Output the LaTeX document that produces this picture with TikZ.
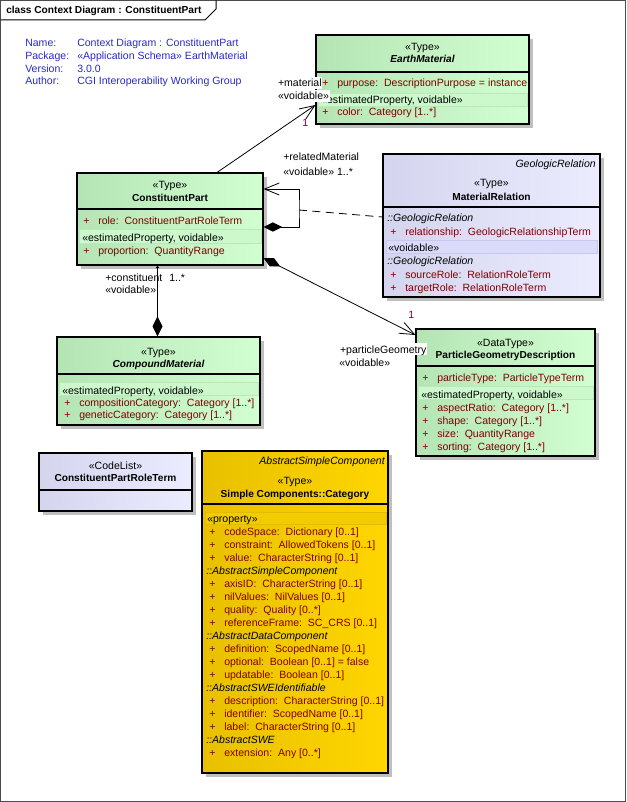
\documentclass[tikz,border=0pt]{standalone}
\usepackage{fontspec}
\setmainfont{Liberation Sans}
\usetikzlibrary{arrows.meta,shadows,fit}

\definecolor{attrred}{RGB}{128,0,0}
\definecolor{multred}{RGB}{110,0,50}
\definecolor{infoblue}{RGB}{40,40,200}
\definecolor{greenL}{RGB}{180,228,180}
\definecolor{greenR}{RGB}{210,255,210}
\definecolor{greenband}{RGB}{204,248,204}
\definecolor{greenline}{RGB}{185,232,185}
\definecolor{lilacL}{RGB}{212,212,238}
\definecolor{lilacR}{RGB}{236,236,255}
\definecolor{lilacband}{RGB}{218,218,250}
\definecolor{lilacline}{RGB}{200,200,238}
\definecolor{goldL}{RGB}{232,192,0}
\definecolor{goldR}{RGB}{255,214,0}
\definecolor{goldband}{RGB}{243,204,0}
\definecolor{goldline}{RGB}{226,188,0}

\tikzset{
	every node/.style = {font=\fontsize{7.9}{9.5}\selectfont, inner sep=0pt, text height=7.2pt, text depth=1.2pt},
	classbox/.style = {draw, line width=0.8pt, inner sep=0pt,
		drop shadow={shadow xshift=3pt, shadow yshift=-3pt, fill=black!25, opacity=1}},
	greenbox/.style = {classbox, left color=greenL, right color=greenR},
	lilacbox/.style = {classbox, left color=lilacL, right color=lilacR},
	goldbox/.style = {classbox, left color=goldL, right color=goldR},
	sepline/.style = {line width=0.8pt},
	gband/.style = {fill=greenband, draw=greenline, line width=0.4pt},
	lband/.style = {fill=lilacband, draw=lilacline, line width=0.4pt},
	yband/.style = {fill=goldband, draw=goldline, line width=0.4pt},
	cname/.style = {font=\fontsize{7.6}{9}\selectfont\bfseries},
	cnamei/.style = {font=\fontsize{7.6}{9}\selectfont\bfseries\itshape},
	absname/.style = {anchor=east, font=\fontsize{7.9}{9.5}\selectfont\itshape},
	plus/.style = {anchor=west, text=attrred},
	attr/.style = {anchor=west, text=attrred},
	grp/.style = {anchor=west, font=\fontsize{7.9}{9.5}\selectfont\itshape},
	tag/.style = {anchor=west},
	info/.style = {anchor=west, text=infoblue},
	role/.style = {anchor=west, fill=white, inner xsep=0.6pt, inner ysep=0.6pt},
	mult/.style = {anchor=west, text=multred},
	link/.style = {line width=0.6pt},
	assoc/.style = {link, -{Straight Barb[length=11pt, width=9pt]}},
	comp/.style = {link, {Diamond[length=14pt, width=7pt]}-{Straight Barb[length=11pt, width=9pt]}},
	whole/.style = {link, {Triangle[length=2pt, width=2.5pt]}-{Diamond[length=15pt, width=7.5pt]}}
}

\begin{document}
\begin{tikzpicture}[x=0.75pt, y=-0.75pt]

	\useasboundingbox (0,0) rectangle (626,802);
	\draw[black!70, line width=0.75pt] (0.5,0.5) rectangle (625.5,801.5);

	% frame tab
	\draw[line width=0.75pt] (0.5,20) -- (205,20) -- (216,9) -- (216,0.5);
	\node[anchor=west, font=\fontsize{7.6}{9}\selectfont\bfseries] (title) at (6,10) {class Context Diagram : ConstituentPart};

	% diagram notes
	\node[info] (nameK) at (25,43) {Name:};
	\node[info] (packK) at (25,56) {Package:};
	\node[info] (versK) at (25,69) {Version:};
	\node[info] (authK) at (25,81) {Author:};
	\node[info] (nameV) at (77,43) {Context Diagram : ConstituentPart};
	\node[info] (packV) at (77,56) {«Application Schema» EarthMaterial};
	\node[info] (versV) at (77,69) {3.0.0};
	\node[info] (authV) at (77,81) {CGI Interoperability Working Group};

	% EarthMaterial
	\node[greenbox, fit={(316,35) (529,124)}] (em) {};
	\draw[sepline] (em.west |- 0,72) -- (em.east |- 0,72);
	\node (em-st) at (422.5,47) {«Type»};
	\node[cnamei] (em-nm) at (422.5,59) {EarthMaterial};
	\node[plus] (em-p1) at (322,83) {+};
	\node[attr] (em-a1) at (337,83) {purpose:\ \ DescriptionPurpose = instance};
	\draw[gband] (318,93) rectangle (527,106);
	\node[tag] (em-tg) at (321,100) {«estimatedProperty, voidable»};
	\node[plus] (em-p2) at (322,112) {+};
	\node[attr] (em-a2) at (337,112) {color:\ \ Category [1..*]};

	% ConstituentPart
	\node[greenbox, fit={(77,173) (263,265)}] (cp) {};
	\draw[sepline] (cp.west |- 0,209) -- (cp.east |- 0,209);
	\node (cp-st) at (170,185) {«Type»};
	\node[cname] (cp-nm) at (170,198) {ConstituentPart};
	\node[plus] (cp-p1) at (83,220) {+};
	\node[attr] (cp-a1) at (98,220) {role:\ \ ConstituentPartRoleTerm};
	\draw[gband] (79,229) rectangle (261,243);
	\node[tag] (cp-tg) at (82,237) {«estimatedProperty, voidable»};
	\node[plus] (cp-p2) at (83,250) {+};
	\node[attr] (cp-a2) at (98,250) {proportion:\ \ QuantityRange};

	% MaterialRelation
	\node[lilacbox, fit={(383,154) (600,297)}] (mr) {};
	\draw[sepline] (mr.west |- 0,207) -- (mr.east |- 0,207);
	\node[absname] (mr-ab) at (596,164) {GeologicRelation};
	\node (mr-st) at (491.5,183) {«Type»};
	\node[cname] (mr-nm) at (491.5,196) {MaterialRelation};
	\node[grp] (mr-g1) at (387,218) {::GeologicRelation};
	\node[plus] (mr-p1) at (390,231) {+};
	\node[attr] (mr-a1) at (405,231) {relationship:\ \ GeologicRelationshipTerm};
	\draw[lband] (386,240) rectangle (597,253);
	\node[tag] (mr-tg) at (388,248) {«voidable»};
	\node[grp] (mr-g2) at (387,260) {::GeologicRelation};
	\node[plus] (mr-p2) at (390,274) {+};
	\node[attr] (mr-a2) at (405,274) {sourceRole:\ \ RelationRoleTerm};
	\node[plus] (mr-p3) at (390,287) {+};
	\node[attr] (mr-a3) at (405,287) {targetRole:\ \ RelationRoleTerm};

	% CompoundMaterial
	\node[greenbox, fit={(57,337) (260,425)}] (cm) {};
	\draw[sepline] (cm.west |- 0,374) -- (cm.east |- 0,374);
	\node (cm-st) at (158.5,351) {«Type»};
	\node[cnamei] (cm-nm) at (158.5,363) {CompoundMaterial};
	\draw[gband] (59,382) rectangle (258,395);
	\node[tag] (cm-tg) at (62,390) {«estimatedProperty, voidable»};
	\node[plus] (cm-p1) at (64,402) {+};
	\node[attr] (cm-a1) at (79,402) {compositionCategory:\ \ Category [1..*]};
	\node[plus] (cm-p2) at (64,414) {+};
	\node[attr] (cm-a2) at (79,414) {geneticCategory:\ \ Category [1..*]};

	% ParticleGeometryDescription
	\node[greenbox, fit={(416,329) (595,456)}] (pg) {};
	\draw[sepline] (pg.west |- 0,366) -- (pg.east |- 0,366);
	\node (pg-st) at (505.5,342) {«DataType»};
	\node[cname] (pg-nm) at (505.5,354) {ParticleGeometryDescription};
	\node[plus] (pg-p0) at (422,377) {+};
	\node[attr] (pg-a0) at (437,377) {particleType:\ \ ParticleTypeTerm};
	\draw[gband] (418,386) rectangle (593,399);
	\node[tag] (pg-tg) at (421,394) {«estimatedProperty, voidable»};
	\foreach \i/\an/\at in {1/aspectRatio/{Category [1..*]}, 2/shape/{Category [1..*]},
		3/size/QuantityRange, 4/sorting/{Category [1..*]}}
	{
		\node[plus] (pg-p\i) at (422,{394+13*\i}) {+};
		\node[attr] (pg-a\i) at (437,{394+13*\i}) {\an:\ \ \at};
	}

	% ConstituentPartRoleTerm
	\node[lilacbox, fit={(39,453) (192,511)}] (cl) {};
	\draw[sepline] (cl.west |- 0,490) -- (cl.east |- 0,490);
	\node (cl-st) at (115.5,465) {«CodeList»};
	\node[cname] (cl-nm) at (115.5,477) {ConstituentPartRoleTerm};

	% Simple Components::Category
	\node[goldbox, fit={(202,451) (388,773)}] (ca) {};
	\draw[sepline] (ca.west |- 0,504) -- (ca.east |- 0,504);
	\node[absname] (ca-ab) at (385,460) {AbstractSimpleComponent};
	\node (ca-st) at (295,480) {«Type»};
	\node[cname] (ca-nm) at (295,493) {Simple Components::Category};
	\draw[yband] (205,512) rectangle (386,524);
	\node[tag] (ca-tg) at (207,518) {«property»};
	\foreach \i/\an/\at in {1/codeSpace/{Dictionary [0..1]}, 2/constraint/{AllowedTokens [0..1]},
		3/value/{CharacterString [0..1]}, 5/axisID/{CharacterString [0..1]},
		6/nilValues/{NilValues [0..1]}, 7/quality/{Quality [0..*]},
		8/referenceFrame/{SC\_CRS [0..1]}, 10/definition/{ScopedName [0..1]},
		11/optional/{Boolean [0..1] = false}, 12/updatable/{Boolean [0..1]},
		14/description/{CharacterString [0..1]}, 15/identifier/{ScopedName [0..1]},
		16/label/{CharacterString [0..1]}, 18/extension/{Any [0..*]}}
	{
		\node[plus] (ca-p\i) at (209,{518+13.05*\i}) {+};
		\node[attr] (ca-a\i) at (224,{518+13.05*\i}) {\an:\ \ \at};
	}
	\foreach \i/\gn in {4/AbstractSimpleComponent, 9/AbstractDataComponent,
		13/AbstractSWEIdentifiable, 17/AbstractSWE}
		\node[grp] (ca-g\i) at (206,{518+13.05*\i}) {::\gn};

	% connectors
	\coordinate (loopR) at (299,210);
	\draw[assoc] (cp.north -| 217,0) -- (em.west |- 0,105);
	\draw[comp] (cp.east |- 0,227) -| (loopR) |- (cp.east |- 0,189);
	\draw[link, dash pattern=on 6pt off 4pt] (loopR) -- (mr.west |- 0,217);
	\draw[comp] (cp.east |- 0,258) -- (pg.west |- 0,335);
	\draw[whole] (cp.south -| 157.5,0) -- (cm.north -| 157.5,0);

	% role labels
	\node[role] (em-r1) at (277,83) {+material};
	\node[role] (em-r2) at (277,96) {«voidable»};
	\node[mult] (em-m) at (302,123) {1};
	\node[anchor=west] (rm-r1) at (283,157) {+relatedMaterial};
	\node[anchor=west] (rm-r2) at (283,172) {«voidable» 1..*};
	\node[role] (pg-r1) at (339,349) {+particleGeometry};
	\node[anchor=west] (pg-r2) at (339,362) {«voidable»};
	\node[mult] (pg-m) at (408,314) {1};
	\node[anchor=west] (cm-r1) at (105,277) {+constituent};
	\node[anchor=west] (cm-m) at (169,277) {1..*};
	\node[anchor=west] (cm-r2) at (105,289) {«voidable»};

\end{tikzpicture}
\end{document}
